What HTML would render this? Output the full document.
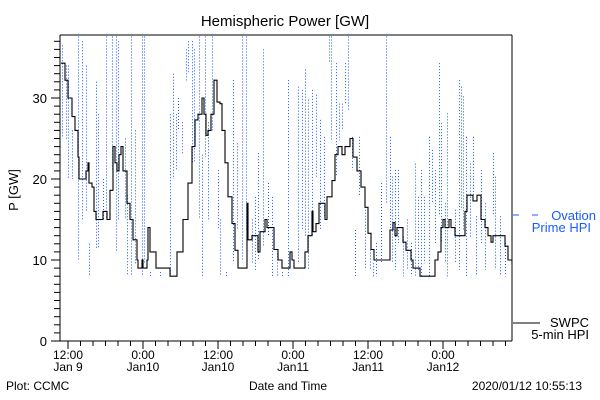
<!DOCTYPE html>
<html><head><meta charset="utf-8"><style>
body{margin:0;background:#fff;}
svg{display:block;font-family:"Liberation Sans",sans-serif;}
</style></head><body>
<svg id="chart" width="600" height="400" viewBox="0 0 600 400">
<defs><clipPath id="plotclip"><rect x="60" y="35" width="452" height="306"/></clipPath></defs>
<text x="285" y="26" font-size="15" text-anchor="middle">Hemispheric Power [GW]</text>
<text transform="translate(18,190) rotate(-90)" font-size="13" text-anchor="middle">P [GW]</text>
<g id="series" clip-path="url(#plotclip)"></g>
<g id="axes">
<line x1="60" y1="35" x2="512" y2="35" stroke="#000"/>
<line x1="60" y1="35" x2="60" y2="341" stroke="#000"/>
<line x1="60" y1="341" x2="512" y2="341" stroke="#000"/>
<line x1="512" y1="35" x2="512" y2="341" stroke="#000"/>
</g>
<g>
<line x1="513" y1="215" x2="519" y2="215" stroke="#1a5cff"/>
<line x1="532" y1="215" x2="538" y2="215" stroke="#1a5cff"/>
<text x="596" y="220" font-size="13" fill="#1a5cff" text-anchor="end">Ovation</text>
<text x="591" y="232" font-size="13" fill="#1a5cff" text-anchor="end">Prime HPI</text>
<line x1="513" y1="323" x2="540" y2="323" stroke="#000"/>
<text x="589" y="327" font-size="13" text-anchor="end">SWPC</text>
<text x="589" y="339" font-size="13" text-anchor="end">5-min HPI</text>
</g>
<text x="6" y="390" font-size="12">Plot: CCMC</text>
<text x="288" y="390" font-size="12" text-anchor="middle">Date and Time</text>
<text x="582" y="390" font-size="12" text-anchor="end">2020/01/12 10:55:13</text>
</svg>
<script>
// Black (SWPC) series: hours since 12:00 Jan 9, value GW
const swpcHours=[-1.12,-0.48,0,0.64,1.12,1.6,1.76,2.56,2.88,3.2,3.36,3.84,4.16,4.48,5.44,5.6,6.08,6.24,6.72,7.2,7.52,7.84,8.16,8.48,8.8,9.44,9.92,10.4,11.04,11.2,11.68,11.84,12,12.48,12.64,12.8,13.12,13.6,14.08,16,16.32,16.96,17.44,17.92,18.4,19.2,19.84,20.32,20.8,21.44,21.76,22.08,22.4,22.88,23.36,23.84,24.32,24.64,25.12,25.6,26.24,26.72,27.2,28.32,28.64,28.8,29.44,29.92,30.4,30.72,31.52,31.84,32.64,32.96,33.6,34.24,35.04,35.52,35.84,36.16,37.44,37.92,38.4,39.04,39.2,39.68,40.16,40.8,41.12,41.44,42.24,42.72,43.2,43.84,44.32,45.12,45.6,46.24,46.88,47.52,48,48.48,48.96,50.88,51.52,52,52.32,52.64,53.28,53.6,54.08,54.88,55.2,56.32,57.92,58.72,59.2,59.68,60,60.32,60.96,61.28,61.92,63.2,63.52,63.84,64.48,64.8,65.12,65.44,66.08,66.72,67.2,67.68,68,69.44,69.92,70.4,71.04];
const swpcValues=[34.3,32.2,30,27.7,26,22.7,20,20,21,22,19.5,19,16,15,15,16,16,15,18.6,24,22,21,23,24,21,17,15,12.5,10,9,9,10,9,9,10,14,11,11,9,9,8,8,11,11,15,19.5,24,27.3,28,30,28,25.4,26,28,32.2,29.5,29.3,26,22,17.8,14.5,11.2,9,9,17,12.5,13,13,11,13.5,15,14,14,11.3,10,9,9,11,10,9,9,11,13,16,13.5,14.5,17,17,15,17.8,19.8,23,24,23,24,25,22.7,21,19,16.5,13.3,11.3,10,10,13.7,14.6,13,14,14,12.2,11.2,10,9,8,8,10,11,14,15,14,15,14,13,13,16,18,18,17.3,17.3,18,15,14,13,12.2,13,13,11.7,10,9.5];
// Blue (Ovation Prime) spikes: hour, spike top GW, spike bottom GW
const ovationHours=[-0.96,-0.32,0,0.64,1.6,2.24,2.88,3.36,4.48,4.8,5.6,6.08,7.04,7.68,8,9.12,9.44,10.08,10.72,11.84,12.16,13.1,14.7,16.32,16.8,17.28,17.6,18.24,18.88,19.2,19.84,20.16,20.96,21.44,21.92,22.4,23.04,24,24.32,25.3,26.4,27.04,27.84,28.48,29.44,29.92,30.4,31.2,32,32.64,33.44,34.24,35.2,36.8,37.44,37.92,38.4,39.04,39.68,40.32,40.96,41.76,42.08,42.88,43.36,43.84,44.32,44.8,45.44,45.92,46.56,47.52,48.32,48.8,49.28,50.08,50.88,51.52,51.84,52.32,52.8,53.6,54.24,54.88,55.52,56,56.48,56.96,57.76,58.24,58.72,59.36,59.68,60.32,60.64,61.92,62.56,62.88,63.2,63.68,64.32,64.8,65.28,66.08,66.72,68,68.32,69.12,69.92,71.04];
const ovationTops=[36.5,34,34,26,37.6,37,34,12,32,28,20,37.6,37.6,37.6,37,25,18,37.6,26,37.6,37.6,8.5,8.5,28,33,28,30,27,36,37,37,36,37.6,23,37.6,27,37.6,21.1,15,8.5,32.2,24.4,37.6,37.6,15,17.8,23.2,36,19.5,17.8,10.8,8.5,32.2,31.4,31,33.5,29.8,31,30.4,27.3,25.2,37.6,37.6,34.3,29.3,29.3,34.3,37.6,25.2,13.7,25.2,16.2,11.3,9.6,12.1,19.5,37.6,25.2,20.3,21.1,21.1,12.9,15,12.1,21.9,17.8,21.1,17.8,25.2,23.6,21.1,34.3,26.9,17,28.1,16.2,32.2,31.4,30.2,25.2,21.9,25.2,15.4,21.1,17,23.2,20.3,15.4,12.1,15.4];
const ovationBottoms=[25,25,20,20,10,15,16,8,11.5,11.5,15,15,21,11,15,15,8,8,9.5,8,9.5,8,8,8,20,21,26,23,32,33,22,22,15,8,22.7,15,26,13.7,8,8,9.6,13.7,10,13.7,9.6,8.8,10,11.7,12.9,8,8,8,8,9.6,13.7,12.9,8.8,12.9,20.3,13.7,15.4,34.3,24.8,20.3,24.8,26,29.3,28.5,21.1,8,17.8,8.8,8.8,8,8,9.6,17,13.7,9.6,8.8,12.1,8,8.8,8,8,8.8,8,9.6,8,17,12.1,15.4,12.1,9.6,8,9.6,8.8,16.2,13.7,8,12.9,17.8,8,12.1,8.8,15.4,8.8,8,8,10.4];
const xMajorTicks=[0,12,24,36,48,60];
const xTickTimes=["12:00","0:00","12:00","0:00","12:00","0:00"];
const xTickDates=["Jan 9","Jan10","Jan10","Jan11","Jan11","Jan12"];
const yMajorTicks=[0,10,20,30];

const NS="http://www.w3.org/2000/svg";
const X0=60,X1=512,Y0=341,Y1=35;
function xs(h){return 68+h*6.25;}
function ys(v){return 341-v*8.1;}
function mk(tag,attrs,parent){const e=document.createElementNS(NS,tag);for(const k in attrs)e.setAttribute(k,attrs[k]);parent.appendChild(e);return e;}
const svg=document.getElementById('chart');
const series=document.getElementById('series');
const axes=document.getElementById('axes');

// blue vertical dotted spikes
for(let i=0;i<ovationHours.length;i++){
  const x=Math.round(xs(ovationHours[i]))+0.5;
  const s=mk('line',{x1:x,x2:x,y1:ys(ovationTops[i]),y2:ys(ovationBottoms[i]),stroke:'#1a5cff','stroke-width':1,'stroke-dasharray':'1 2'},series);
  
  
}

// black step line
let d='';
for(let i=0;i<swpcHours.length;i++){
  const x=xs(swpcHours[i]).toFixed(1), y=ys(swpcValues[i]).toFixed(1);
  if(i===0)d+='M'+x+','+y;
  else d+=' H'+x+' V'+y;
}
const black=mk('path',{d:d,fill:'none',stroke:'#000','stroke-width':1.1},series);



// x ticks
for(let h=0;xs(h)<=X1;h+=2){
  const major=(h%12===0);
  const t=mk('line',{x1:xs(h),x2:xs(h),y1:Y0,y2:Y0+(major?8:5),stroke:'#000'},axes);
  
  
}
xMajorTicks.forEach((h,i)=>{
  const a=mk('text',{x:xs(h),y:359,'font-size':12,'text-anchor':'middle'},svg);
  a.textContent=xTickTimes[i];
  
  
  const b=mk('text',{x:xs(h),y:371,'font-size':12,'text-anchor':'middle'},svg);
  b.textContent=xTickDates[i];
  
  
});
// y ticks
for(let v=0;ys(v)>=Y1;v+=1){
  const major=(v%10===0);
  const t=mk('line',{x1:X0-(major?9:6),x2:X0,y1:ys(v),y2:ys(v),stroke:'#000'},axes);
  
  
}
yMajorTicks.forEach(v=>{
  const a=mk('text',{x:47,y:ys(v)+5,'font-size':13,'text-anchor':'end'},svg);
  a.textContent=String(v);
  
  
});
</script>
</body></html>
